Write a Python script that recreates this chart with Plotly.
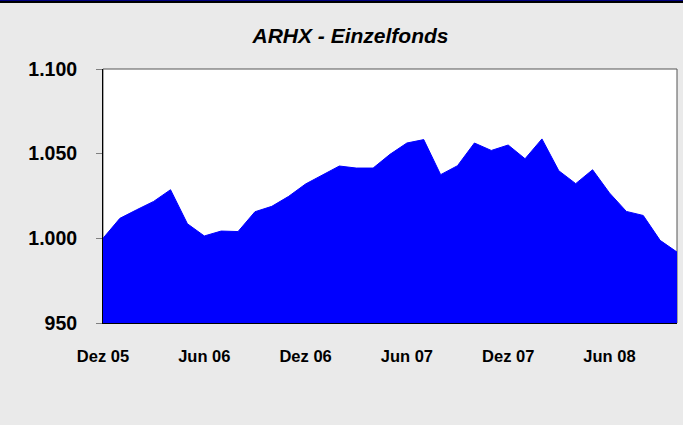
import plotly.graph_objects as go

months = ["Dez 05", "Jan 06", "Feb 06", "Mrz 06", "Apr 06", "Mai 06", "Jun 06", "Jul 06", "Aug 06",
          "Sep 06", "Okt 06", "Nov 06", "Dez 06", "Jan 07", "Feb 07", "Mrz 07", "Apr 07", "Mai 07",
          "Jun 07", "Jul 07", "Aug 07", "Sep 07", "Okt 07", "Nov 07", "Dez 07", "Jan 08", "Feb 08",
          "Mrz 08", "Apr 08", "Mai 08", "Jun 08", "Jul 08", "Aug 08", "Sep 08", "Okt 08"]
values = [1000.0, 1011.8, 1016.9, 1021.8, 1028.7, 1008.6, 1001.4, 1004.3, 1004.0,
          1015.7, 1018.9, 1024.8, 1032.1, 1037.6, 1042.7, 1041.5, 1041.5, 1049.6,
          1056.3, 1058.3, 1037.6, 1042.9, 1056.3, 1051.9, 1055.1, 1047.0, 1058.7,
          1039.9, 1032.3, 1040.5, 1026.8, 1015.9, 1013.5, 998.8, 991.9]
x_tick_labels = ["Dez 05", "Jun 06", "Dez 06", "Jun 07", "Dez 07", "Jun 08"]
y_tick_values = [950, 1000, 1050, 1100]
y_tick_labels = ["950", "1.000", "1.050", "1.100"]
title_text = "ARHX - Einzelfonds"

idx = list(range(len(months)))
x_tick_pos = [months.index(m) for m in x_tick_labels]

W, H = 683, 425
L, R, T, B = 102.5, 6, 69.3, 101.7
ph = H - T - B

def py(pix):
    return (H - B - pix) / ph

fig = go.Figure()
fig.add_trace(go.Scatter(
    x=idx, y=values, mode="lines", fill="tozeroy",
    line=dict(color="#0000FF", width=1), fillcolor="#0000FF",
    hoverinfo="skip", showlegend=False,
))

font = "Liberation Sans, Arial, sans-serif"

fig.update_layout(
    width=W, height=H,
    margin=dict(l=L, r=R, t=T, b=B, pad=0),
    paper_bgcolor="#EAEAEA", plot_bgcolor="#FFFFFF",
    showlegend=False,
    title=dict(text="<b><i>" + title_text + "</i></b>", x=350.5 / W, xanchor="center",
               y=1 - 35.5 / H, yanchor="middle",
               font=dict(family=font, size=21, color="#000000")),
    xaxis=dict(range=[0, len(months) - 1], tickvals=x_tick_pos, ticktext=x_tick_labels,
               showgrid=False, zeroline=False, showline=True, linecolor="#000000", linewidth=1,
               ticks="", ticklabelstandoff=18,
               tickfont=dict(family=font, size=16.5, color="#000000", weight="bold")),
    yaxis=dict(range=[950, 1100], tickvals=y_tick_values, ticktext=y_tick_labels,
               showgrid=False, zeroline=False, showline=True, linecolor="#000000", linewidth=1,
               ticks="outside", ticklen=6, tickcolor="#808080", tickwidth=1,
               ticklabelstandoff=15,
               tickfont=dict(family=font, size=19.5, color="#000000", weight="bold")),
    shapes=[
        dict(type="rect", xref="paper", yref="paper", x0=0, x1=1, y0=0, y1=1,
             line=dict(color="#555555", width=1), layer="below"),
        dict(type="rect", xref="paper", yref="paper", x0=-0.3, x1=1.1, y0=py(1.3), y1=py(-1),
             line=dict(width=0), fillcolor="#000080", layer="above"),
        dict(type="rect", xref="paper", yref="paper", x0=-0.3, x1=1.1, y0=py(3.3), y1=py(1.3),
             line=dict(width=0), fillcolor="#000000", layer="above"),
    ],
)

fig.write_html(
    "out.html",
    config={"displayModeBar": False},
    post_script="document.body.style.margin='0';document.body.style.overflow='hidden';",
)
